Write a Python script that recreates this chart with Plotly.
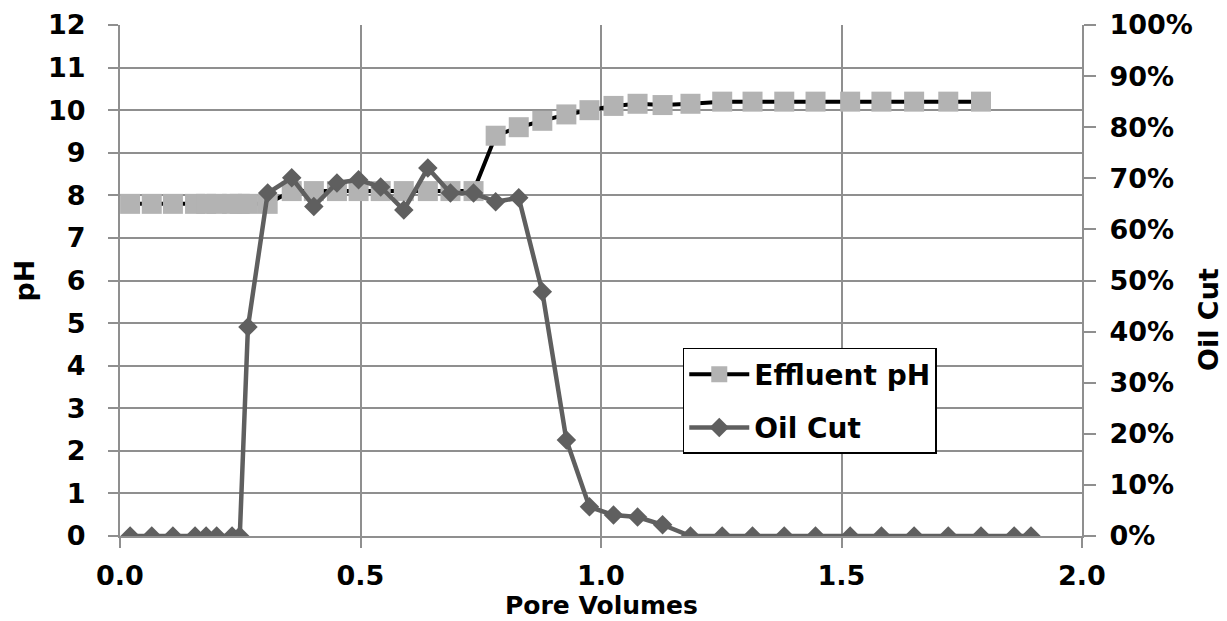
import plotly.graph_objects as go

# Pore volumes (x) shared by both series
pore_volumes = [0.021, 0.066, 0.110, 0.156, 0.179, 0.201, 0.233, 0.249, 0.266, 0.307,
                0.357, 0.403, 0.451, 0.496, 0.542, 0.590, 0.640, 0.687, 0.735, 0.781,
                0.829, 0.878, 0.928, 0.976, 1.026, 1.076, 1.128, 1.186, 1.252, 1.315,
                1.381, 1.446, 1.518, 1.583, 1.651, 1.722, 1.790, 1.859, 1.894]

effluent_ph = [7.8, 7.8, 7.8, 7.8, 7.8, 7.8, 7.8, 7.8, 7.8, 7.8,
               8.1, 8.1, 8.1, 8.1, 8.1, 8.1, 8.1, 8.1, 8.1, 9.4,
               9.6, 9.75, 9.9, 10.0, 10.1, 10.15, 10.12, 10.15, 10.2, 10.2,
               10.2, 10.2, 10.2, 10.2, 10.2, 10.2, 10.2]

oil_cut = [0, 0, 0, 0, 0, 0, 0, 0, 40.9, 67.1,
           70.1, 64.5, 69.1, 69.7, 68.3, 63.8, 72.0, 67.1, 67.1, 65.4,
           66.2, 47.8, 18.8, 5.7, 4.1, 3.7, 2.2, 0, 0, 0,
           0, 0, 0, 0, 0, 0, 0, 0, 0]

x_ticks = [0.0, 0.5, 1.0, 1.5, 2.0]

FONT = "DejaVu Sans"
GRID = "#8f8f8f"

fig = go.Figure()
fig.add_trace(go.Scatter(
    x=pore_volumes[:len(effluent_ph)], y=effluent_ph, name="Effluent pH",
    legendgroup="ph", mode="lines+markers",
    line=dict(color="black", width=4),
    marker=dict(symbol="square", size=20, color="#b3b3b3"),
))
fig.add_trace(go.Scatter(
    x=pore_volumes, y=oil_cut, name="Oil Cut", yaxis="y2",
    legendgroup="oil", mode="lines+markers",
    line=dict(color="#5f5f5f", width=4.5),
    marker=dict(symbol="diamond", size=15, color="#5f5f5f"),
))

tick_font = dict(family=FONT, size=27, color="black", weight="bold")
title_font = dict(family=FONT, size=27, color="black", weight="bold")
xtitle_font = dict(family=FONT, size=25, color="black", weight="bold")

fig.update_layout(
    width=1227, height=621,
    margin=dict(l=120, r=145, t=25, b=85, autoexpand=False),
    paper_bgcolor="white", plot_bgcolor="white",
    font=dict(family=FONT, size=27, color="black", weight="bold"),
    xaxis=dict(
        range=[0, 2], tickvals=x_ticks, tickformat=".1f",
        showgrid=True, gridcolor=GRID, gridwidth=2,
        showline=True, linecolor=GRID, linewidth=2,
        ticks="outside", ticklen=10, tickwidth=2, tickcolor=GRID,
        zeroline=False, tickfont=tick_font, ticklabelstandoff=5,
        automargin=False,
    ),
    yaxis=dict(
        range=[0, 12], dtick=1,
        showgrid=True, gridcolor=GRID, gridwidth=2,
        showline=True, linecolor=GRID, linewidth=2,
        ticks="outside", ticklen=10, tickwidth=2, tickcolor=GRID,
        zeroline=False, tickfont=tick_font, ticklabelstandoff=17,
        automargin=False,
        title=dict(text="pH", font=title_font, standoff=6),
    ),
    yaxis2=dict(
        range=[0, 100], dtick=10, ticksuffix="%",
        overlaying="y", side="right",
        showgrid=False,
        showline=True, linecolor=GRID, linewidth=2,
        ticks="outside", ticklen=12, tickwidth=2, tickcolor=GRID,
        zeroline=False, tickfont=tick_font, ticklabelstandoff=8,
        automargin=False,
    ),
    annotations=[
        dict(text="Oil Cut", textangle=-90, xref="paper", yref="paper",
             x=1.131, y=0.4227, xanchor="center", yanchor="middle",
             showarrow=False, font=title_font),
        dict(text="Pore Volumes", xref="paper", yref="paper",
             x=0.5, y=-0.136, xanchor="center", yanchor="middle",
             showarrow=False, font=xtitle_font),
    ],
    legend=dict(
        x=0.585, y=0.368, xanchor="left", yanchor="top",
        bgcolor="white", bordercolor="black", borderwidth=1.5,
        font=dict(family=FONT, size=28, color="black", weight="bold"),
        tracegroupgap=14, itemwidth=60,
    ),
    showlegend=True,
)

fig.write_html("out.html")
